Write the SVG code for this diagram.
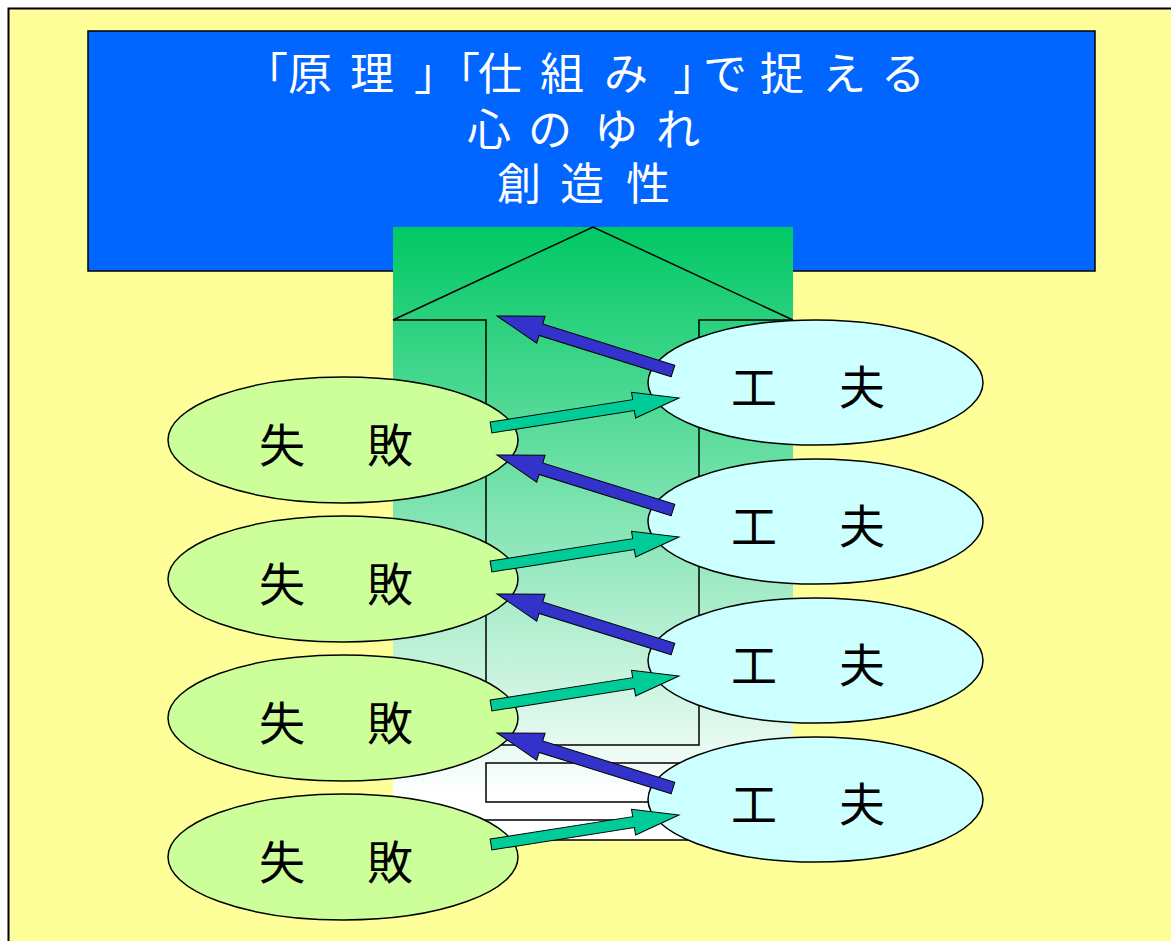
<svg xmlns="http://www.w3.org/2000/svg" xmlns:xlink="http://www.w3.org/1999/xlink" width="1171" height="941" viewBox="0 0 1171 941">
<style>
.title{font-family:"Noto Sans CJK JP","Noto Sans",sans-serif;font-size:44px;fill:#FFFFFF;text-anchor:middle}
.lbl{font-family:"Noto Sans CJK JP","Noto Sans",sans-serif;font-size:46px;fill:#000000;text-anchor:middle}
.fail{fill:#CCFF99;stroke:#000;stroke-width:1.5}
.kufu{fill:#CCFFFF;stroke:#000;stroke-width:1.5}
.line{fill:none;stroke:#000;stroke-width:1.5}
.ab{fill:#3333CC;stroke:#000;stroke-width:1}
.ag{fill:#00CC99;stroke:#000;stroke-width:1}
</style>
<defs>
<linearGradient id="houseGrad" x1="0" y1="0" x2="0" y2="1">
<stop offset="0" stop-color="#00C864"/>
<stop offset="0.93" stop-color="#FFFFFF"/>
<stop offset="1" stop-color="#FFFFFF"/>
</linearGradient>
<path id="arrowBlue" d="M0,-6 L138.4,-6 L138.4,-14 L184.4,0 L138.4,14 L138.4,6 L0,6 Z"/>
<path id="arrowGreen" d="M0,-5.5 L144.3,-5.5 L144.3,-13 L190.3,0 L144.3,13 L144.3,5.5 L0,5.5 Z"/>
</defs>
<rect id="background" x="8.5" y="8.5" width="1170" height="940" fill="#FFFF99" stroke="#000" stroke-width="2"/>
<g id="title">
<rect x="88" y="31" width="1007" height="240" fill="#0066FF" stroke="#000" stroke-width="1.5"/>
<text class="title" x="266 310 372 436 458 500 562 626 695 725 782 844 903" y="89.5">「原理」「仕組み」で捉える</text>
<text class="title" x="489 550 616 678" y="146">心のゆれ</text>
<text class="title" x="519 582 648" y="200">創造性</text>
</g>
<g id="house">
<rect x="393" y="227" width="400" height="613" fill="url(#houseGrad)"/>
<polyline class="line" points="393,320 593,227 793,320"/>
<polyline class="line" points="393,320 486,320 486,745 699,745 699,320 793,320"/>
<rect class="line" x="486" y="763" width="214" height="39"/>
<rect class="line" x="460" y="820" width="280" height="20"/>
</g>
<g id="failure1"><ellipse class="fail" cx="343" cy="440" rx="175" ry="63"/><text class="lbl" x="282 390" y="462">失敗</text></g>
<g id="failure2"><ellipse class="fail" cx="343" cy="579" rx="175" ry="63"/><text class="lbl" x="282 390" y="601">失敗</text></g>
<g id="failure3"><ellipse class="fail" cx="343" cy="718" rx="175" ry="63"/><text class="lbl" x="282 390" y="740">失敗</text></g>
<g id="failure4"><ellipse class="fail" cx="343" cy="857" rx="175" ry="63"/><text class="lbl" x="282 390" y="879">失敗</text></g>
<g id="kufu1"><ellipse class="kufu" cx="815.5" cy="382.5" rx="167.5" ry="62.5"/><text class="lbl" x="754 862" y="404">工夫</text></g>
<g id="kufu2"><ellipse class="kufu" cx="815.5" cy="521.5" rx="167.5" ry="62.5"/><text class="lbl" x="754 862" y="543">工夫</text></g>
<g id="kufu3"><ellipse class="kufu" cx="815.5" cy="660.5" rx="167.5" ry="62.5"/><text class="lbl" x="754 862" y="682">工夫</text></g>
<g id="kufu4"><ellipse class="kufu" cx="815.5" cy="799.5" rx="167.5" ry="62.5"/><text class="lbl" x="754 862" y="821">工夫</text></g>
<g id="connectors">
<use xlink:href="#arrowBlue" class="ab" transform="translate(673,371) rotate(197.35)"/>
<use xlink:href="#arrowBlue" class="ab" transform="translate(673,510) rotate(197.35)"/>
<use xlink:href="#arrowBlue" class="ab" transform="translate(673,649) rotate(197.35)"/>
<use xlink:href="#arrowBlue" class="ab" transform="translate(673,788) rotate(197.35)"/>
<use xlink:href="#arrowGreen" class="ag" transform="translate(491,427.5) rotate(-8.92)"/>
<use xlink:href="#arrowGreen" class="ag" transform="translate(491,566.5) rotate(-8.92)"/>
<use xlink:href="#arrowGreen" class="ag" transform="translate(491,705.5) rotate(-8.92)"/>
<use xlink:href="#arrowGreen" class="ag" transform="translate(491,844.5) rotate(-8.92)"/>
</g>
</svg>
